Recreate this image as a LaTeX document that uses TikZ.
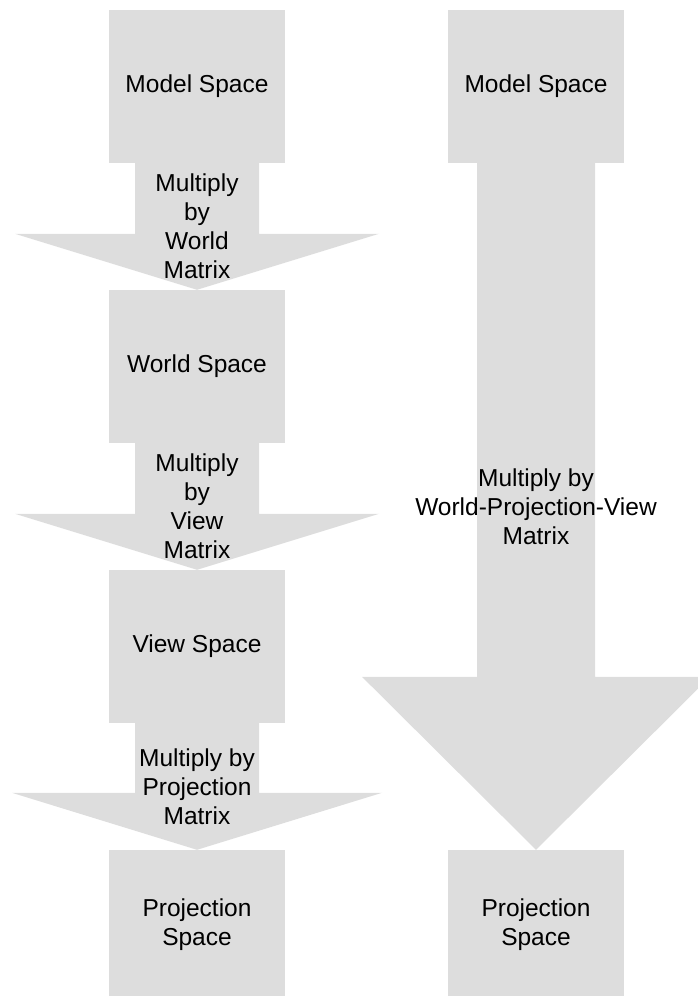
\documentclass[tikz,border=0pt]{standalone}
\usepackage{fontspec}
\setmainfont{Liberation Sans}
\usetikzlibrary{calc}
\definecolor{spacegray}{HTML}{DDDDDD}
\tikzset{
  spacebox/.style={fill=spacegray, minimum width=176pt, minimum height=153pt, inner sep=0pt, align=center},
  steplabel/.style={align=center, inner sep=0pt},
  every node/.style={font=\fontsize{24.5}{29}\selectfont}
}
% from, to, shaft half width, head half width, head length
\newcommand{\spacearrow}[5]{%
  \fill[spacegray] ($(#1.south)+(-#3,0)$) -- ($(#2.north)+(-#3,-#5)$) -- ($(#2.north)+(-#4,-#5)$) -- (#2.north)
    -- ($(#2.north)+(#4,-#5)$) -- ($(#2.north)+(#3,-#5)$) -- ($(#1.south)+(#3,0)$) -- cycle;}
\begin{document}
\begin{tikzpicture}[x=1pt,y=-1pt]
  \useasboundingbox (0,0) rectangle (697,996);
  \node[spacebox] (model) at (197,86.5) {Model Space};
  \node[spacebox] (world) at (197,366.5) {World Space};
  \node[spacebox] (view) at (197,646.5) {View Space};
  \node[spacebox, minimum height=150pt] (proj) at (197,925) {Projection\\Space};
  \node[spacebox] (modelR) at (536,86.5) {Model Space};
  \node[spacebox, minimum height=150pt] (projR) at (536,925) {Projection\\Space};

  \spacearrow{model}{world}{62}{182}{56}
  \spacearrow{world}{view}{62}{182}{56}
  \spacearrow{view}{proj}{62}{185}{57}
  \spacearrow{modelR}{projR}{59}{174}{173}

  \node[steplabel] at ($(model.south)!0.5!(world.north)$) {Multiply\\by\\World\\Matrix};
  \node[steplabel] at ($(world.south)!0.5!(view.north)$) {Multiply\\by\\View\\Matrix};
  \node[steplabel] at ($(view.south)!0.5!(proj.north)$) {Multiply by\\Projection\\Matrix};
  \node[steplabel] at ($(modelR.south)!0.5!(projR.north)$) {Multiply by\\World-Projection-View\\Matrix};
\end{tikzpicture}
\end{document}
